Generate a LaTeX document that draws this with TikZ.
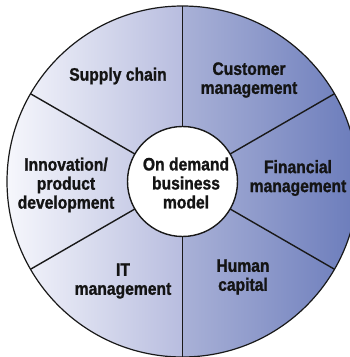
\documentclass[tikz,border=0pt]{standalone}
\usepackage{fontspec}
\setmainfont{Liberation Sans}[FakeStretch=0.87, BoldFeatures={FakeBold=1.2}]
\definecolor{leftfar}{HTML}{F6F7FC}
\definecolor{leftnear}{HTML}{B8BDDF}
\definecolor{rightnear}{HTML}{A9B1D7}
\definecolor{rightfar}{HTML}{6B7CBB}
\tikzset{
  label/.style={align=center, font=\fontsize{18}{19}\selectfont\bfseries, text=black!92},
  spoke/.style={line width=1.4pt, black!90}
}
\begin{document}
\begin{tikzpicture}[x=1pt,y=1pt]
\useasboundingbox (0,0) rectangle (349,357);
\coordinate (hub) at (182.5,175.5);

% the two shaded halves of the wheel
\begin{scope}
\clip (hub) circle (175.5pt);
\shade[left color=leftfar, right color=leftnear] (7,0) rectangle (182.5,357);
\shade[left color=rightnear, right color=rightfar] (182.5,0) rectangle (358,357);
\end{scope}
\draw[line width=1.2pt, black!90] (hub) circle (175.5pt);

% spokes
\draw[spoke] ([shift={(90:55pt)}]hub) -- ([shift={(90:175.5pt)}]hub);
\draw[spoke] ([shift={(30:55pt)}]hub) -- ([shift={(30:175.5pt)}]hub);
\draw[spoke] ([shift={(-30:55pt)}]hub) -- ([shift={(-30:175.5pt)}]hub);
\draw[spoke] ([shift={(-90:55pt)}]hub) -- ([shift={(-90:175.5pt)}]hub);
\draw[spoke] ([shift={(210:55pt)}]hub) -- ([shift={(210:175.5pt)}]hub);
\draw[spoke] ([shift={(150:55pt)}]hub) -- ([shift={(150:175.5pt)}]hub);

% hub
\draw[line width=1.4pt, black!90, fill=white] (hub) circle (55pt);
\node[label] (core) at (186,174) {On demand\\business\\model};

\node[label] (supply) at (118,281) {Supply chain};
\node[label] (customer) at (249,277) {Customer\\management};
\node[label] (financial) at (298,179) {Financial\\management};
\node[label] (human) at (243,80) {Human\\capital};
\node[label] (it) at (123,76) {IT\\management};
\node[label] (innovation) at (66,172) {Innovation/\\product\\development};
\end{tikzpicture}
\end{document}
